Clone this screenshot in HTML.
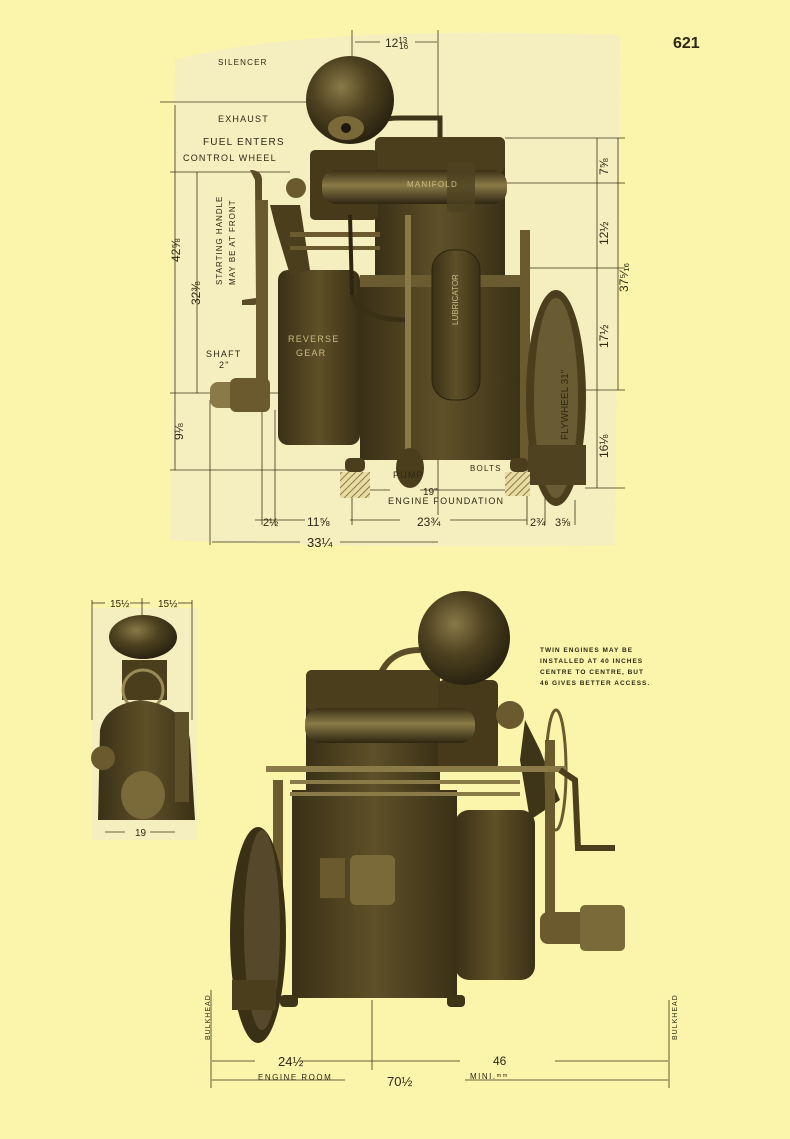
<!DOCTYPE html>
<html><head><meta charset="utf-8"><style>
html,body{margin:0;padding:0;background:#faf5aa;}
svg{display:block}
text{font-family:"Liberation Sans",sans-serif;fill:#2e2814}
</style></head><body>
<svg width="790" height="1139" viewBox="0 0 790 1139" xmlns="http://www.w3.org/2000/svg">
<defs>
<radialGradient id="sph" cx="40%" cy="35%" r="65%"><stop offset="0" stop-color="#8a7a48"/><stop offset="0.5" stop-color="#4e4220"/><stop offset="1" stop-color="#2a2310"/></radialGradient>
<linearGradient id="blk" x1="0" x2="1"><stop offset="0" stop-color="#3a3016"/><stop offset="0.5" stop-color="#5e5028"/><stop offset="1" stop-color="#3a3016"/></linearGradient>
<linearGradient id="pipe" x1="0" y1="0" x2="0" y2="1"><stop offset="0" stop-color="#3a3016"/><stop offset="0.45" stop-color="#8a7a48"/><stop offset="1" stop-color="#2e2610"/></linearGradient>
<pattern id="hat" width="5" height="5" patternUnits="userSpaceOnUse" patternTransform="rotate(45)"><rect width="5" height="5" fill="#e8dca0"/><line x1="0" y1="0" x2="0" y2="5" stroke="#6a5a30" stroke-width="1.5"/></pattern>
</defs>
<rect width="790" height="1139" fill="#faf5aa"/>
<text x="673" y="48" font-family="Liberation Serif" font-size="16" font-weight="bold">621</text>

<!-- TOP FIGURE -->
<path d="M175 60 Q300 25 620 35 L615 545 Q400 550 170 540 Z" fill="#f5eebf"/>
<g stroke="#3a3218" stroke-width="0.8" fill="none">
<line x1="352" y1="30" x2="352" y2="135"/><line x1="438" y1="30" x2="438" y2="515"/>
<line x1="160" y1="102" x2="330" y2="102"/><line x1="175" y1="105" x2="175" y2="470"/>
<line x1="170" y1="172" x2="290" y2="172"/><line x1="197" y1="172" x2="197" y2="393"/>
<line x1="170" y1="393" x2="290" y2="393"/><line x1="170" y1="470" x2="360" y2="470"/>
<line x1="505" y1="138" x2="625" y2="138"/><line x1="505" y1="183" x2="625" y2="183"/>
<line x1="525" y1="268" x2="625" y2="268"/><line x1="525" y1="390" x2="625" y2="390"/>
<line x1="585" y1="488" x2="625" y2="488"/>
<line x1="597" y1="138" x2="597" y2="488"/><line x1="618" y1="138" x2="618" y2="390"/>
<line x1="210" y1="400" x2="210" y2="545"/><line x1="262" y1="410" x2="262" y2="525"/>
<line x1="275" y1="410" x2="275" y2="525"/><line x1="352" y1="470" x2="352" y2="525"/>
<line x1="527" y1="470" x2="527" y2="525"/><line x1="545" y1="470" x2="545" y2="525"/><line x1="575" y1="500" x2="575" y2="525"/>
<line x1="355" y1="42" x2="380" y2="42"/><line x1="415" y1="42" x2="437" y2="42"/>
<line x1="255" y1="520" x2="305" y2="520"/><line x1="350" y1="520" x2="400" y2="520"/><line x1="450" y1="520" x2="527" y2="520"/>
<line x1="212" y1="542" x2="300" y2="542"/><line x1="340" y1="542" x2="438" y2="542"/>
<line x1="370" y1="490" x2="390" y2="490"/><line x1="420" y1="490" x2="505" y2="490"/>
</g>
<!-- engine top -->
<g>
<path d="M377 122 Q385 118 400 118 L440 118 L440 138" stroke="#3e3418" stroke-width="5" fill="none"/>
<rect x="375" y="137" width="130" height="145" rx="6" fill="url(#blk)"/>
<rect x="375" y="137" width="130" height="35" rx="6" fill="#4a3e1c"/>
<rect x="360" y="275" width="165" height="185" fill="url(#blk)"/>
<rect x="360" y="275" width="165" height="12" fill="#6a5c30"/>
<rect x="310" y="150" width="68" height="70" rx="5" fill="#463a1a"/>
<rect x="322" y="170" width="185" height="34" rx="14" fill="url(#pipe)"/>
<rect x="447" y="162" width="28" height="50" rx="4" fill="#4e4220" opacity="0.8"/>
<circle cx="296" cy="188" r="10" fill="#6a5a2e"/>
<circle cx="350" cy="100" r="44" fill="url(#sph)"/>
<ellipse cx="346" cy="128" rx="18" ry="12" fill="#7a6a3a"/><circle cx="346" cy="128" r="5" fill="#1e1a0a"/>
<rect x="432" y="250" width="48" height="150" rx="20" fill="url(#blk)" stroke="#2a2410"/>
<rect x="278" y="270" width="82" height="175" rx="10" fill="url(#blk)"/>
<path d="M250 170 Q262 170 262 180 L262 300 L255 305 L242 305 L242 300 L256 298 L255 180 Z" fill="#5a4c26"/>
<path d="M270 205 L300 205 L310 270 L290 275 L275 225 Z" fill="#4a3e1c"/>
<rect x="256" y="200" width="12" height="210" fill="#6a5a2e"/>
<rect x="520" y="230" width="10" height="240" fill="#6a5a2e"/>
<rect x="290" y="232" width="90" height="5" fill="#6a5a2e"/><rect x="290" y="246" width="90" height="4" fill="#6a5a2e"/>
<line x1="350" y1="215" x2="352" y2="295" stroke="#2e2610" stroke-width="4"/>
<path d="M352 295 Q360 320 410 320" stroke="#3a3016" stroke-width="5" fill="none"/>
<rect x="405" y="215" width="6" height="260" fill="#8a7a48"/>
<ellipse cx="410" cy="468" rx="14" ry="20" fill="#4a3e1c"/>
<rect x="210" y="382" width="55" height="26" rx="8" fill="#8a7a48"/><rect x="230" y="378" width="40" height="34" rx="6" fill="#6a5a2e"/>
<ellipse cx="556" cy="398" rx="30" ry="108" fill="#4a3e1c"/>
<ellipse cx="556" cy="398" rx="22" ry="100" fill="#6a5c32"/>
<rect x="528" y="445" width="58" height="40" fill="#4e4220"/>
<rect x="340" y="472" width="30" height="26" fill="url(#hat)"/><rect x="505" y="472" width="25" height="24" fill="url(#hat)"/>
<rect x="345" y="458" width="20" height="14" rx="5" fill="#4a3e1c"/><rect x="510" y="458" width="18" height="14" rx="5" fill="#4a3e1c"/>
</g>
<g font-size="8" letter-spacing="1.2">
<text x="218" y="65">SILENCER</text>
<text x="218" y="122" font-size="9">EXHAUST</text>
<text x="203" y="145" font-size="10">FUEL ENTERS</text>
<text x="183" y="161" font-size="9">CONTROL WHEEL</text>
<text x="407" y="187" font-size="8" fill="#d8cc90" style="fill:#c8bc80">MANIFOLD</text>
<text x="288" y="342" font-size="9" style="fill:#c8bc80">REVERSE</text>
<text x="296" y="356" font-size="9" style="fill:#c8bc80">GEAR</text>
<text x="206" y="357" font-size="9">SHAFT</text>
<text x="219" y="368" font-size="9">2"</text>
<text x="388" y="504" font-size="9">ENGINE FOUNDATION</text>
<text x="393" y="478" font-size="9">PUMP</text>
<text x="470" y="471" font-size="8">BOLTS</text>
</g>
<g font-size="12">
<text x="385" y="47">12<tspan font-size="8" dy="-4">13</tspan><tspan font-size="8" dy="6" dx="-8">16</tspan></text>
<text x="423" y="495" font-size="10">19"</text>
<text x="263" y="526" font-size="11">2½</text><text x="307" y="526">11⅝</text><text x="417" y="526">23¾</text>
<text x="530" y="526" font-size="11">2¾</text><text x="555" y="526" font-size="11">3⅝</text>
<text x="307" y="547" font-size="13">33¼</text>
</g>
<g font-size="12">
<text transform="translate(180,262) rotate(-90)">42⅝</text>
<text transform="translate(200,305) rotate(-90)">32⅜</text>
<text transform="translate(183,440) rotate(-90)">9⅛</text>
<text transform="translate(222,285) rotate(-90)" font-size="8" letter-spacing="1">STARTING HANDLE</text>
<text transform="translate(235,285) rotate(-90)" font-size="8" letter-spacing="1">MAY BE AT FRONT</text>
<text transform="translate(608,175) rotate(-90)">7⅝</text>
<text transform="translate(608,245) rotate(-90)">12½</text>
<text transform="translate(608,348) rotate(-90)">17½</text>
<text transform="translate(608,458) rotate(-90)">16⅛</text>
<text transform="translate(628,292) rotate(-90)">37⁵⁄₁₆</text>
<text transform="translate(458,325) rotate(-90)" font-size="8" style="fill:#c8bc80">LUBRICATOR</text>
<text transform="translate(568,440) rotate(-90)" font-size="10">FLYWHEEL 31"</text>
</g>

<!-- SMALL END VIEW -->
<rect x="92" y="608" width="105" height="232" fill="#f5eebf"/>
<g stroke="#3a3218" stroke-width="0.8"><line x1="92" y1="600" x2="92" y2="720"/><line x1="192" y1="600" x2="192" y2="720"/><line x1="92" y1="603" x2="105" y2="603"/><line x1="130" y1="603" x2="150" y2="603"/><line x1="178" y1="603" x2="192" y2="603"/><line x1="142" y1="598" x2="142" y2="615"/><line x1="105" y1="832" x2="125" y2="832"/><line x1="150" y1="832" x2="175" y2="832"/></g>
<text x="110" y="607" font-size="10">15½</text><text x="158" y="607" font-size="10">15½</text>
<text x="135" y="836" font-size="10">19</text>
<ellipse cx="143" cy="637" rx="34" ry="22" fill="url(#sph)"/>
<rect x="122" y="660" width="45" height="40" fill="#4a3e1c"/>
<circle cx="143" cy="690" r="20" fill="none" stroke="#9a8a58" stroke-width="3"/>
<path d="M100 730 Q105 705 140 700 Q185 705 190 740 L195 820 L98 820 Z" fill="url(#blk)"/>
<ellipse cx="143" cy="795" rx="22" ry="24" fill="#7a6a3a"/>
<circle cx="103" cy="758" r="12" fill="#6a5a2e"/>
<rect x="175" y="712" width="14" height="90" fill="#5e5028"/>

<!-- BOTTOM ENGINE -->
<g stroke="#3a3218" stroke-width="0.8">
<line x1="211" y1="990" x2="211" y2="1088"/><line x1="669" y1="1000" x2="669" y2="1088"/><line x1="372" y1="1000" x2="372" y2="1070"/>
<line x1="212" y1="1061" x2="255" y2="1061"/><line x1="300" y1="1061" x2="460" y2="1061"/><line x1="555" y1="1061" x2="668" y2="1061"/>
<line x1="212" y1="1080" x2="345" y2="1080"/><line x1="465" y1="1080" x2="668" y2="1080"/>
</g>
<g>
<path d="M375 700 Q378 650 420 650" stroke="#5a4c26" stroke-width="6" fill="none"/>
<rect x="306" y="670" width="134" height="130" rx="6" fill="url(#blk)"/>
<rect x="306" y="670" width="134" height="40" rx="6" fill="#4a3e1c"/>
<rect x="438" y="680" width="60" height="90" rx="6" fill="#463a1a"/>
<rect x="305" y="708" width="170" height="35" rx="15" fill="url(#pipe)"/>
<ellipse cx="464" cy="638" rx="46" ry="47" fill="url(#sph)"/>
<circle cx="510" cy="715" r="14" fill="#6a5a2e"/>
<rect x="292" y="790" width="165" height="208" fill="url(#blk)"/>
<rect x="455" y="810" width="80" height="170" rx="14" fill="url(#blk)"/>
<path d="M525 720 L540 750 L560 800 L530 820 L520 760 Z" fill="#3e3418"/>
<ellipse cx="556" cy="770" rx="10" ry="60" fill="none" stroke="#6a5a2e" stroke-width="3"/>
<rect x="545" y="740" width="10" height="180" fill="#6a5a2e"/>
<rect x="273" y="780" width="10" height="180" fill="#6a5a2e"/>
<rect x="266" y="766" width="300" height="6" fill="#8a7a48"/>
<rect x="290" y="780" width="230" height="4" fill="#8a7a48"/><rect x="290" y="792" width="230" height="4" fill="#8a7a48"/>
<path d="M560 770 L575 780 L578 848 L615 848" stroke="#4a3e1c" stroke-width="6" fill="none"/>
<rect x="350" y="855" width="45" height="50" rx="6" fill="#7a6a3a"/>
<rect x="320" y="858" width="25" height="40" fill="#6a5a2e"/>
<ellipse cx="258" cy="935" rx="28" ry="108" fill="#3a3016"/>
<ellipse cx="262" cy="930" rx="18" ry="100" fill="#56482a"/>
<rect x="232" y="980" width="44" height="30" fill="#4a3e1c"/>
<rect x="540" y="912" width="50" height="32" rx="8" fill="#6a5a2e"/>
<rect x="580" y="905" width="45" height="46" rx="5" fill="#7a6a3a"/>
<rect x="280" y="995" width="18" height="12" rx="4" fill="#3e3418"/><rect x="447" y="995" width="18" height="12" rx="4" fill="#3e3418"/>
</g>
<g font-size="6.5" font-weight="bold" letter-spacing="1">
<text x="540" y="652">TWIN ENGINES MAY BE</text>
<text x="540" y="663">INSTALLED AT 40 INCHES</text>
<text x="540" y="674">CENTRE TO CENTRE, BUT</text>
<text x="540" y="685">46 GIVES BETTER ACCESS.</text>
</g>
<text transform="translate(210,1040) rotate(-90)" font-size="7" letter-spacing="1">BULKHEAD</text>
<text transform="translate(677,1040) rotate(-90)" font-size="7" letter-spacing="1">BULKHEAD</text>
<text x="278" y="1066" font-size="13">24½</text>
<text x="493" y="1065" font-size="12">46</text>
<text x="258" y="1080" font-size="8" letter-spacing="1.5">ENGINE ROOM</text>
<text x="470" y="1079" font-size="8" letter-spacing="1.5">MINI.ᵐᵐ</text>
<text x="387" y="1086" font-size="13">70½</text>
</svg>
</body></html>
